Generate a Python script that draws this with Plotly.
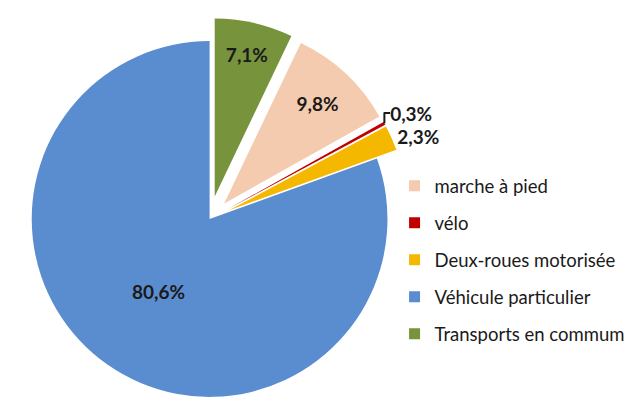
import plotly.graph_objects as go

categories = ["marche à pied", "vélo", "Deux-roues motorisée", "Véhicule particulier", "Transports en commum"]
shares = [9.8, 0.3, 2.3, 80.6, 7.1]
colors = ["#F4CBAE", "#C00000", "#F5B800", "#5A8DD0", "#77933C"]
pulls = [0.12, 0.12, 0.12, 0.0, 0.13]
text_pos = ["inside", "outside", "outside", "inside", "inside"]

labels_txt = [f"{v:.1f}%".replace(".", ",") for v in shares]

fig = go.Figure()
fig.add_trace(go.Pie(
    labels=categories,
    values=shares,
    text=labels_txt,
    textinfo="text",
    textposition=text_pos,
    sort=False,
    direction="clockwise",
    rotation=shares[-1] / sum(shares) * 360,
    pull=pulls,
    marker=dict(colors=colors, line=dict(width=0)),
    textfont=dict(family="Lato", size=19, color="#1a1a1a", weight="bold"),
    insidetextorientation="horizontal",
    showlegend=False,
    domain=dict(x=[0, 0.63], y=[0, 1]),
    hoverinfo="label+percent",
))

for name, col in zip(categories, colors):
    fig.add_trace(go.Scatter(
        x=[None], y=[None], mode="markers", name=name, legendgroup=name,
        marker=dict(symbol="square", size=11, color=col),
    ))

fig.update_layout(
    width=640, height=412,
    margin=dict(l=0, r=0, t=10, b=0, autoexpand=False),
    paper_bgcolor="white", plot_bgcolor="white",
    xaxis=dict(visible=False), yaxis=dict(visible=False),
    showlegend=True,
    legend=dict(
        x=0.604, y=0.629, xanchor="left", yanchor="top",
        font=dict(family="Lato", size=18.5, color="#1a1a1a"),
        tracegroupgap=10, itemwidth=30,
        bgcolor="rgba(0,0,0,0)",
    ),
)

fig.write_html("out.html")
